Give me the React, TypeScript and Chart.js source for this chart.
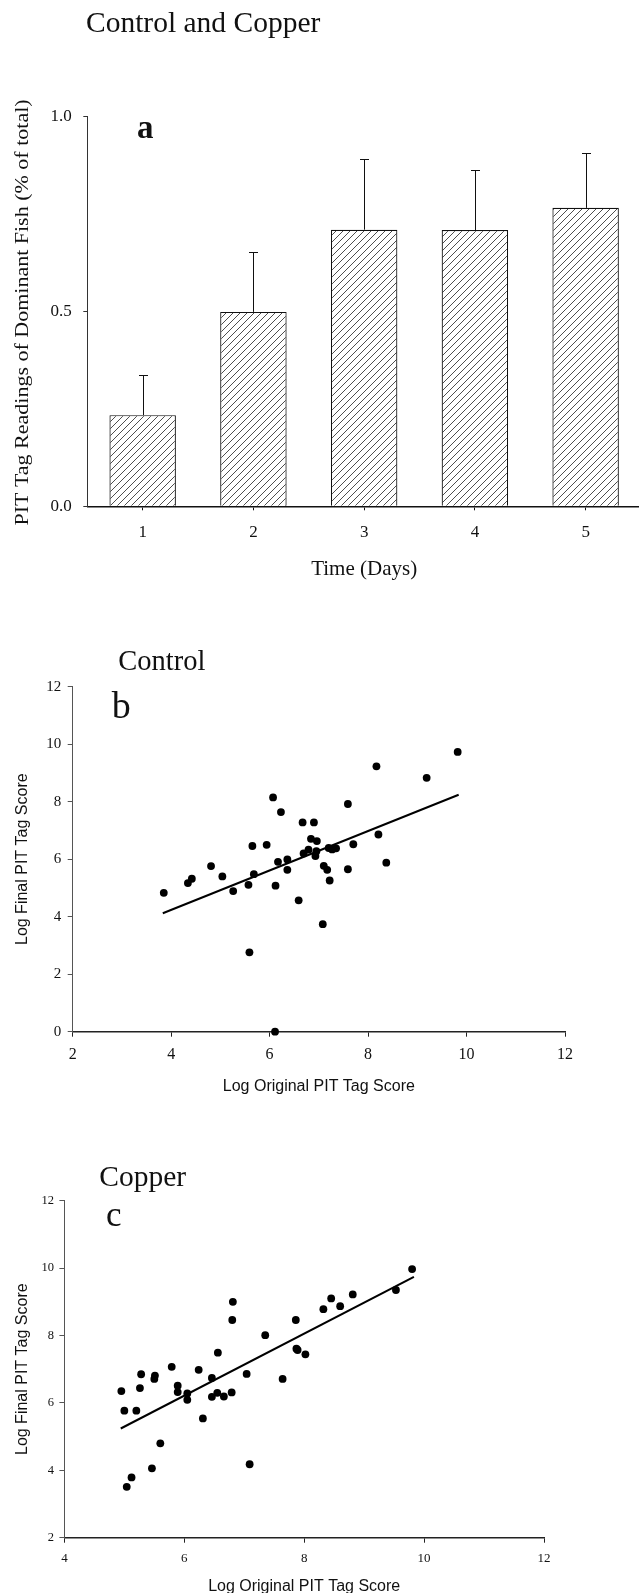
import React, { useEffect, useRef } from "react";
import { Chart, registerables } from "chart.js";

Chart.register(...registerables);

// ---------- Panel a : Control and Copper ----------
const days = ["1", "2", "3", "4", "5"];
const dominantShare = [0.234, 0.499, 0.71, 0.709, 0.766];
const dominantShareUpper = [0.338, 0.652, 0.891, 0.862, 0.907];
const yTicksA = [0, 0.5, 1.0];

// ---------- Panel b : Control ----------
const controlOriginal = [
  3.85, 4.34, 4.42, 4.81, 5.04, 5.26, 5.57, 5.65, 5.68, 5.59, 5.94, 6.07, 6.23, 6.12, 6.11,
  6.17, 6.36, 6.36, 6.59, 6.67, 6.69, 6.79, 6.84, 6.9, 6.93, 6.96, 6.95, 7.1, 7.08, 7.17,
  7.2, 7.22, 7.27, 7.35, 7.59, 7.59, 7.7, 8.17, 8.21, 8.37, 9.19, 9.82,
];
const controlFinal = [
  4.83, 5.17, 5.32, 5.76, 5.4, 4.89, 5.11, 6.46, 5.48, 2.76, 6.5, 8.15, 7.64, 5.08, 0.0,
  5.91, 5.99, 5.63, 4.57, 7.28, 6.2, 6.33, 6.71, 7.28, 6.11, 6.63, 6.28, 5.77, 3.74, 5.63,
  6.39, 5.26, 6.34, 6.38, 7.92, 5.65, 6.52, 9.23, 6.86, 5.88, 8.83, 9.73,
];
const controlFitX = [3.83, 9.84];
const controlFitY = [4.12, 8.24];
const xTicksB = [2, 4, 6, 8, 10, 12];
const yTicksB = [0, 2, 4, 6, 8, 10, 12];

// ---------- Panel c : Copper ----------
const copperOriginal = [
  4.95, 5.0, 5.04, 5.12, 5.2, 5.26, 5.28, 5.46, 5.5, 5.51, 5.6, 5.79, 5.89, 5.89, 6.05,
  6.05, 6.24, 6.31, 6.46, 6.46, 6.55, 6.56, 6.66, 6.79, 6.8, 6.81, 7.04, 7.09, 7.35, 7.64,
  7.86, 7.87, 7.89, 8.02, 8.32, 8.45, 8.6, 8.81, 9.53, 9.8,
];
const copperFinal = [
  6.35, 5.77, 3.51, 3.79, 5.77, 6.44, 6.85, 4.06, 6.71, 6.81, 4.8, 7.07, 6.51, 6.32, 6.09,
  6.28, 6.98, 5.54, 6.74, 6.18, 6.3, 7.49, 6.19, 6.31, 8.46, 9.0, 6.86, 4.18, 8.01, 6.71,
  8.46, 7.61, 7.57, 7.44, 8.78, 9.1, 8.87, 9.22, 9.35, 9.97,
];
const copperFitX = [4.94, 9.83];
const copperFitY = [5.24, 9.74];
const xTicksC = [4, 6, 8, 10, 12];
const yTicksC = [2, 4, 6, 8, 10, 12];

const SERIF = "'Liberation Serif', 'Times New Roman', serif";
const SANS = "'Liberation Sans', Arial, sans-serif";

function drawLabel(
  ctx: CanvasRenderingContext2D,
  text: string,
  x: number,
  y: number,
  font: string,
  align: CanvasTextAlign = "left",
  rotate = false,
  squash = 1
) {
  ctx.save();
  ctx.translate(x, y);
  if (rotate) ctx.rotate(-Math.PI / 2);
  if (squash !== 1) ctx.scale(1, squash);
  ctx.font = font;
  ctx.fillStyle = "#111";
  ctx.textAlign = align;
  ctx.textBaseline = "alphabetic";
  ctx.fillText(text, 0, 0);
  ctx.restore();
}

function textPlugin(id: string, fn: (chart: any) => void) {
  return {
    id,
    afterDraw(chart: any) {
      fn(chart);
    },
  };
}

function axisStyle(tickLen: number, borderWidth: number, borderColor: string) {
  return {
    grid: {
      display: true,
      drawOnChartArea: false,
      drawTicks: true,
      tickLength: tickLen,
      color: borderColor,
      lineWidth: 1,
    },
    border: { display: true, color: borderColor, width: borderWidth },
  };
}

function pairs(xs: number[], ys: number[]) {
  return xs.map((x, i) => ({ x, y: ys[i] }));
}

export default function App() {
  const refA = useRef<HTMLCanvasElement>(null);
  const refB = useRef<HTMLCanvasElement>(null);
  const refC = useRef<HTMLCanvasElement>(null);

  useEffect(() => {
    const charts: Chart[] = [];

    // hatch pattern
    const tile = document.createElement("canvas");
    const s = 7;
    tile.width = s;
    tile.height = s;
    const g = tile.getContext("2d")!;
    g.fillStyle = "#fff";
    g.fillRect(0, 0, s, s);
    g.strokeStyle = "#3a3a3a";
    g.lineWidth = 0.9;
    g.beginPath();
    g.moveTo(-1, s + 1);
    g.lineTo(s + 1, -1);
    g.moveTo(-1, 1);
    g.lineTo(1, -1);
    g.moveTo(s - 1, s + 1);
    g.lineTo(s + 1, s - 1);
    g.stroke();
    const ctxA = refA.current!.getContext("2d")!;
    const hatch = ctxA.createPattern(tile, "repeat");

    const errorBars = {
      id: "errorBars",
      afterDatasetsDraw(chart: any) {
        const { ctx } = chart;
        const x = chart.scales.x;
        const y = chart.scales.y;
        ctx.save();
        ctx.strokeStyle = "#111";
        ctx.lineWidth = 1;
        dominantShareUpper.forEach((u, i) => {
          const px = Math.round(x.getPixelForValue(i)) + 0.5;
          const top = Math.round(y.getPixelForValue(u)) + 0.5;
          const base = y.getPixelForValue(dominantShare[i]);
          ctx.beginPath();
          ctx.moveTo(px, base);
          ctx.lineTo(px, top);
          ctx.moveTo(px - 4.5, top);
          ctx.lineTo(px + 4.5, top);
          ctx.stroke();
        });
        ctx.restore();
      },
    };

    charts.push(
      new Chart(refA.current!, {
        type: "bar",
        data: {
          labels: days,
          datasets: [
            {
              data: dominantShare,
              backgroundColor: hatch as any,
              borderColor: "#111",
              borderWidth: 1.2,
              barPercentage: 0.6,
              categoryPercentage: 1,
            },
          ],
        },
        options: {
          animation: false,
          responsive: false,
          events: [],
          layout: { padding: { left: 0, top: 116.7, right: 4, bottom: 0 } },
          plugins: { legend: { display: false }, tooltip: { enabled: false } },
          scales: {
            x: {
              type: "category",
              offset: true,
              ...axisStyle(4, 1.6, "#111"),
              grid: { ...axisStyle(4, 1.6, "#111").grid, offset: false },
              ticks: { font: { family: SERIF, size: 17 }, color: "#111", padding: 12, maxRotation: 0 },
              afterFit: (sc: any) => {
                sc.height = 113.7;
              },
            },
            y: {
              type: "linear",
              min: 0,
              max: 1,
              ...axisStyle(4, 1, "#333"),
              ticks: {
                font: { family: SERIF, size: 17 },
                color: "#111",
                padding: 11.6,
                callback: (v: any) => Number(v).toFixed(1),
              },
              afterBuildTicks: (sc: any) => {
                sc.ticks = yTicksA.map((v) => ({ value: v }));
              },
              afterFit: (sc: any) => {
                sc.width = 87.3;
              },
            },
          },
        } as any,
        plugins: [
          errorBars,
          textPlugin("textsA", (chart) => {
            const { ctx, chartArea } = chart;
            drawLabel(ctx, "Control and Copper", 86, 31.7, `29.5px ${SERIF}`);
            drawLabel(ctx, "a", 137, 138, `bold 33px ${SERIF}`);
            drawLabel(
              ctx,
              "PIT Tag Readings of Dominant Fish (% of total)",
              28.3,
              (chartArea.top + chartArea.bottom) / 2 + 1,
              `22px ${SERIF}`,
              "center",
              true,
              0.87
            );
            drawLabel(ctx, "Time (Days)", (chartArea.left + chartArea.right) / 2, 575, `21px ${SERIF}`, "center");
          }),
        ],
      })
    );

    const scatterChart = (
      canvas: HTMLCanvasElement,
      xs: number[],
      ys: number[],
      fitX: number[],
      fitY: number[],
      xTicks: number[],
      yTicks: number[],
      geom: { top: number; right: number; yW: number; xH: number },
      fonts: { x: number; y: number; xPad: number; yPad: number },
      texts: (chart: any) => void
    ) =>
      new Chart(canvas, {
        type: "scatter",
        data: {
          datasets: [
            {
              data: pairs(xs, ys),
              pointRadius: 3.9,
              pointBackgroundColor: "#000",
              pointBorderWidth: 0,
              showLine: false,
              clip: false,
            } as any,
            {
              data: pairs(fitX, fitY),
              showLine: true,
              pointRadius: 0,
              borderColor: "#000",
              borderWidth: 2,
              fill: false,
            } as any,
          ],
        },
        options: {
          animation: false,
          responsive: false,
          events: [],
          layout: { padding: { left: 0, top: geom.top, right: geom.right, bottom: 0 } },
          plugins: { legend: { display: false }, tooltip: { enabled: false } },
          scales: {
            x: {
              type: "linear",
              min: xTicks[0],
              max: xTicks[xTicks.length - 1],
              ...axisStyle(5, 1.4, "#222"),
              ticks: { font: { family: SERIF, size: fonts.x }, color: "#111", padding: fonts.xPad, maxRotation: 0 },
              afterBuildTicks: (sc: any) => {
                sc.ticks = xTicks.map((v) => ({ value: v }));
              },
              afterFit: (sc: any) => {
                sc.height = geom.xH;
              },
            },
            y: {
              type: "linear",
              min: yTicks[0],
              max: yTicks[yTicks.length - 1],
              ...axisStyle(5, 1, "#555"),
              ticks: { font: { family: SERIF, size: fonts.y }, color: "#111", padding: fonts.yPad },
              afterBuildTicks: (sc: any) => {
                sc.ticks = yTicks.map((v) => ({ value: v }));
              },
              afterFit: (sc: any) => {
                sc.width = geom.yW;
              },
            },
          },
        } as any,
        plugins: [textPlugin("texts", texts)],
      });

    charts.push(
      scatterChart(
        refB.current!,
        controlOriginal,
        controlFinal,
        controlFitX,
        controlFitY,
        xTicksB,
        yTicksB,
        { top: 56.7, right: 74, yW: 72.7, xH: 78.3 },
        { x: 16, y: 15, xPad: 8.7, yPad: 6.5 },
        (chart) => {
          const { ctx, chartArea } = chart;
          drawLabel(ctx, "Control", 118.3, 40, `28.5px ${SERIF}`);
          drawLabel(ctx, "b", 111.7, 87.7, `38px ${SERIF}`);
          drawLabel(ctx, "Log Final PIT Tag Score", 26.8, (chartArea.top + chartArea.bottom) / 2, `16px ${SANS}`, "center", true);
          drawLabel(ctx, "Log Original PIT Tag Score", (chartArea.left + chartArea.right) / 2, 460.5, `16px ${SANS}`, "center");
        }
      )
    );

    charts.push(
      scatterChart(
        refC.current!,
        copperOriginal,
        copperFinal,
        copperFitX,
        copperFitY,
        xTicksC,
        yTicksC,
        { top: 70.7, right: 95, yW: 64.4, xH: 55.3 },
        { x: 13, y: 12.5, xPad: 7.8, yPad: 5.4 },
        (chart) => {
          const { ctx, chartArea } = chart;
          drawLabel(ctx, "Copper", 99.3, 56, `29.5px ${SERIF}`);
          drawLabel(ctx, "c", 106, 96, `35px ${SERIF}`);
          drawLabel(ctx, "Log Final PIT Tag Score", 26.8, (chartArea.top + chartArea.bottom) / 2, `16px ${SANS}`, "center", true);
          drawLabel(ctx, "Log Original PIT Tag Score", (chartArea.left + chartArea.right) / 2, 461, `16px ${SANS}`, "center");
        }
      )
    );

    return () => {
      charts.forEach((c) => c.destroy());
    };
  }, []);

  const canvasStyle = (top: number, w: number, h: number): React.CSSProperties => ({
    position: "absolute",
    left: 0,
    top,
    width: w,
    height: h,
    display: "block",
  });

  return (
    <div
      style={{
        position: "absolute",
        left: 0,
        top: 0,
        width: 639,
        height: 1593,
        overflow: "hidden",
        background: "#fff",
      }}
    >
      <canvas ref={refA} width={645} height={620} style={canvasStyle(0, 645, 620)} />
      <canvas ref={refB} width={639} height={480} style={canvasStyle(630, 639, 480)} />
      <canvas ref={refC} width={639} height={463} style={canvasStyle(1130, 639, 463)} />
    </div>
  );
}
